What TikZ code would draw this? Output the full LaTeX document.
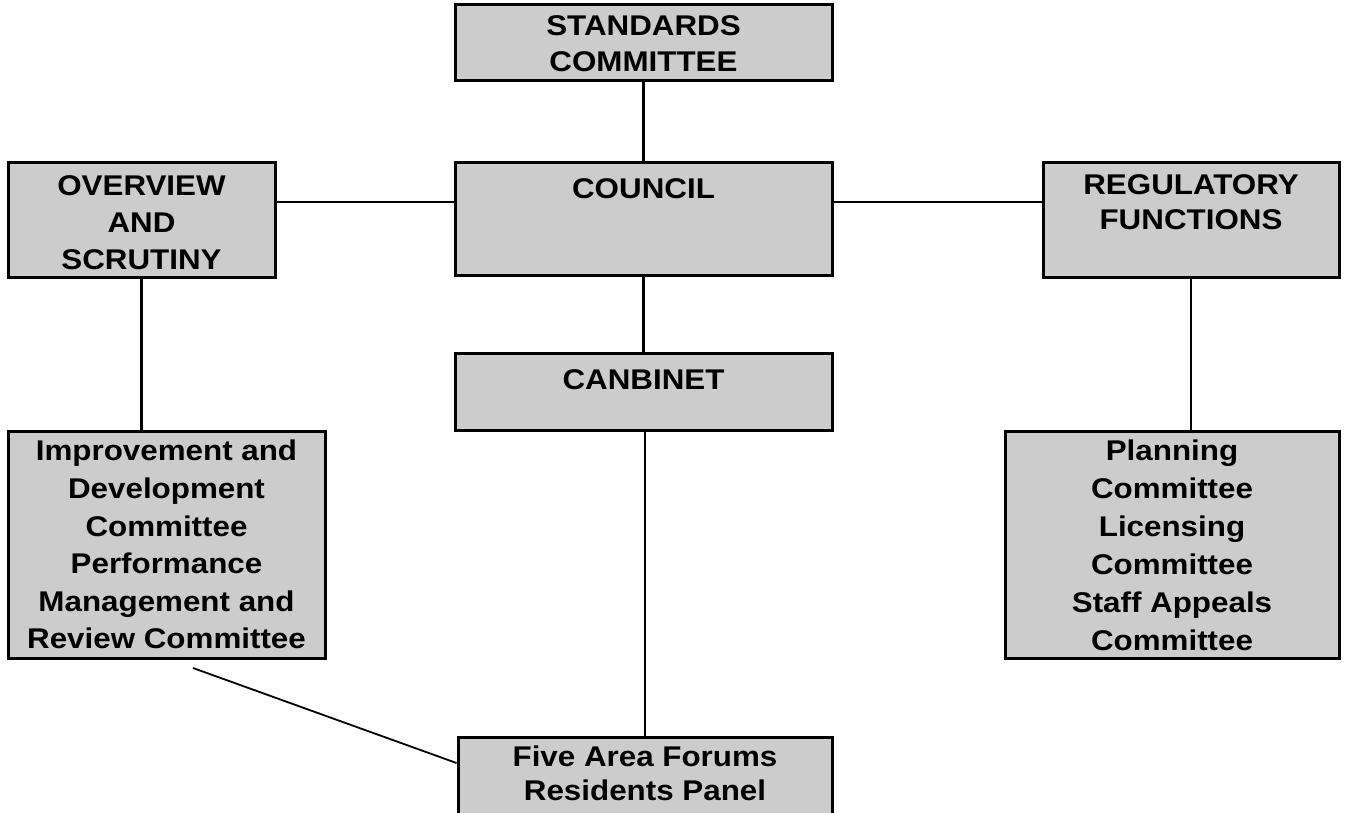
\documentclass[tikz,border=0pt]{standalone}
\usepackage{fontspec}
\newfontfamily\boxfont{Liberation Sans}[FakeStretch=1.1]
\begin{document}
\begin{tikzpicture}[x=1pt,y=-1pt,
  box/.style={draw=black, line width=3pt, fill=boxgray, inner sep=0pt},
  lbl/.style={anchor=north, inner sep=0pt, align=center, font=\boxfont\bfseries\fontsize{28.5}{37}\selectfont},
  conn/.style={line width=2.2pt}]
\definecolor{boxgray}{RGB}{204,204,204}
\clip (0,0) rectangle (1348,813);
\fill[white] (0,0) rectangle (1348,813);
% boxes
\node[box, minimum width=377pt, minimum height=76pt] (std) at (643.5,43) {};
\node[box, minimum width=377pt, minimum height=112pt] (council) at (643.5,219) {};
\node[box, minimum width=267pt, minimum height=114pt] (ovr) at (141.5,220) {};
\node[box, minimum width=296pt, minimum height=114pt] (reg) at (1191,220) {};
\node[box, minimum width=377pt, minimum height=77pt] (cab) at (643.5,391.5) {};
\node[box, minimum width=317pt, minimum height=227pt] (imp) at (166.5,544.5) {};
\node[box, minimum width=334pt, minimum height=227pt] (plan) at (1172,544.5) {};
\node[box, minimum width=374pt, minimum height=103pt] (five) at (645,788.5) {};
% labels
\node[lbl, font=\boxfont\bfseries\fontsize{28.5}{36}\selectfont] (stdt) at (643.5,15) {STANDARDS\\COMMITTEE};
\node[lbl] (councilt) at (643.5,178) {COUNCIL};
\node[lbl] (ovrt) at (141.5,175) {OVERVIEW\\AND\\SCRUTINY};
\node[lbl, font=\boxfont\bfseries\fontsize{28.5}{35}\selectfont] (regt) at (1191,174) {REGULATORY\\FUNCTIONS};
\node[lbl] (cabt) at (643.5,369) {CANBINET};
\node[lbl, font=\boxfont\bfseries\fontsize{28.5}{37.6}\selectfont] (impt) at (166.5,440) {Improvement and\\Development\\Committee\\Performance\\Management and\\Review Committee};
\node[lbl, font=\boxfont\bfseries\fontsize{28.5}{38}\selectfont] (plant) at (1172,440) {Planning\\Committee\\Licensing\\Committee\\Staff Appeals\\Committee};
\node[lbl, font=\boxfont\bfseries\fontsize{28.5}{34}\selectfont] (fivet) at (645,746) {Five Area Forums\\Residents Panel};
% connectors
\draw[conn] (std.south) -- (council.north);
\draw[conn] (ovr.east |- 0,202) -- (council.west |- 0,202);
\draw[conn] (council.east |- 0,202) -- (reg.west |- 0,202);
\draw[conn] (ovr.south) -- (ovr.south |- imp.north);
\draw[conn] (reg.south) -- (reg.south |- plan.north);
\draw[conn] (council.south) -- (cab.north);
\draw[conn] (cab.south -| five.north) -- (five.north);
\coordinate (diag) at (193,668);
\draw[conn, line width=1.8pt] (diag) -- (five.west |- 0,763);
\end{tikzpicture}
\end{document}
